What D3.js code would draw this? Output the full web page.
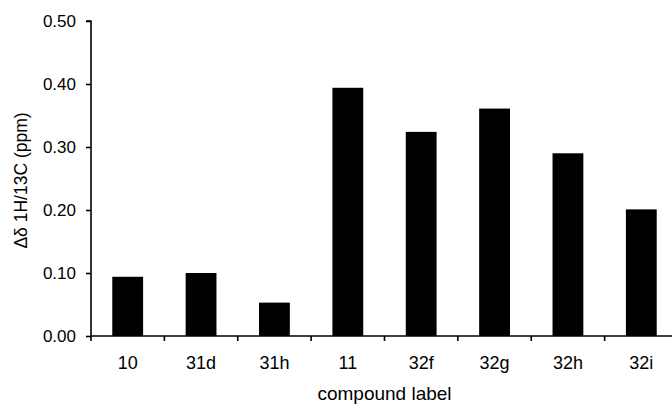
<!DOCTYPE html>
<html>
<head>
<meta charset="utf-8">
<script src="https://cdn.jsdelivr.net/npm/d3@7"></script>
<style>
  body { margin: 0; background: #fff; }
  text { font-family: "Liberation Sans", Arial, sans-serif; fill: #000; }
</style>
</head>
<body>
<svg width="672" height="404"></svg>
<script>
    // chart data
    const compounds = ["10", "31d", "31h", "11", "32f", "32g", "32h", "32i"];
    const deltaValues = [0.094, 0.100, 0.053, 0.394, 0.324, 0.361, 0.290, 0.201];
    const yTicks = [0, 0.1, 0.2, 0.3, 0.4, 0.5];

    const margin = { top: 21, right: 0, bottom: 68, left: 91 },
      width = 678 - margin.left,
      height = 404 - margin.top - margin.bottom;

    const svg = d3.select("svg")
      .append("g")
      .attr("transform", `translate(${margin.left}, ${margin.top})`);

    const xScale = d3.scaleBand().domain(compounds).range([0, width]).padding(0);
    const yScale = d3.scaleLinear().domain([0, 0.5]).range([height, 0]);

    const barWidth = xScale.bandwidth() * 0.42;

    // bars
    svg.selectAll("rect.bar")
      .data(compounds)
      .enter().append("rect")
      .attr("class", "bar")
      .attr("x", d => xScale(d) + (xScale.bandwidth() - barWidth) / 2)
      .attr("width", barWidth)
      .attr("y", (d, i) => yScale(deltaValues[i]))
      .attr("height", (d, i) => height - yScale(deltaValues[i]))
      .attr("fill", "#000");

    // y axis
    const yAxis = svg.append("g")
      .call(d3.axisLeft(yScale).tickValues(yTicks).tickFormat(d3.format(".2f")).tickSize(5).tickPadding(10));
    yAxis.select(".domain").attr("stroke-width", 1.6).attr("d", `M-5,${yScale(0.5)}H0V${height}`);
    yAxis.selectAll(".tick line").attr("stroke-width", 1.6);
    yAxis.selectAll(".tick text").style("font-size", "17px");

    // x axis, ticks sit on band boundaries
    const xAxis = svg.append("g")
      .attr("transform", `translate(0, ${height})`)
      .call(d3.axisBottom(xScale).tickSize(0).tickPadding(20));
    xAxis.select(".domain").attr("stroke-width", 1.6).attr("d", `M0,0H${width}`);
    xAxis.selectAll(".tick text").style("font-size", "18px");
    xAxis.selectAll(".bound")
      .data(compounds)
      .enter().append("line")
      .attr("x1", d => xScale(d))
      .attr("x2", d => xScale(d))
      .attr("y1", 0)
      .attr("y2", 5)
      .attr("stroke", "#000")
      .attr("stroke-width", 1.6);

    // axis labels
    svg.append("text")
      .attr("x", width / 2)
      .attr("y", height + 64)
      .style("text-anchor", "middle")
      .style("font-size", "19px")
      .text("compound label");
    svg.append("text")
      .attr("transform", "rotate(-90)")
      .attr("x", -159.5)
      .attr("y", -64.5)
      .style("text-anchor", "middle")
      .style("font-size", "17.5px")
      .text("Δδ 1H/13C (ppm)");
</script>
</body>
</html>
